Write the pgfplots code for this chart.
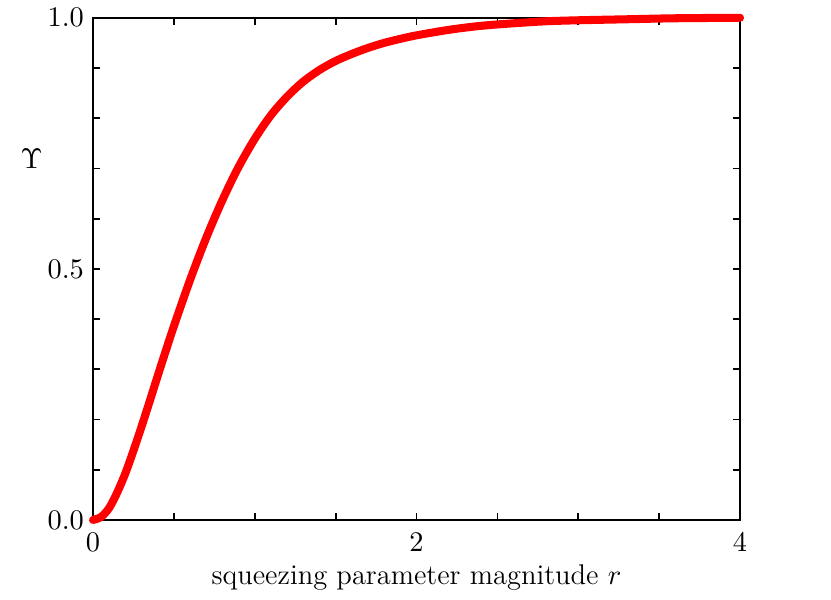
\documentclass[border=0pt]{standalone}
\usepackage{pgfplots}
\pgfplotsset{compat=1.18}

\begin{document}
\begin{tikzpicture}
\begin{axis}[
    scale only axis,
    width=249.7pt, height=193.8pt,
    xmin=0, xmax=4, ymin=0, ymax=1,
    xtick={0,2,4}, ytick={0,0.5,1},
    minor x tick num=3, minor y tick num=4,
    tick align=inside,
    major tick length=2.8pt, minor tick length=2.8pt,
    every tick/.style={black, line width=0.7pt},
    axis line style={line width=0.8pt},
    tick label style={font=\fontsize{11}{13}\selectfont},
    label style={font=\fontsize{11}{13}\selectfont},
    yticklabel style={/pgf/number format/.cd, fixed, fixed zerofill, precision=1},
    xticklabel style={yshift=-1.4pt, /pgf/number format/.cd, fixed, precision=0},
    xlabel={squeezing parameter magnitude $r$},
    xlabel style={yshift=1.4pt},
    ylabel={$\Upsilon$},
    ylabel style={rotate=-90, at={(axis description cs:-0.095,0.72)}, anchor=center},
    clip=false,
]
\addplot[red, line width=3.1pt, line cap=round, line join=round, smooth, tension=0.5] coordinates {
    (0,0)(0.05,0.006)(0.1,0.024)(0.15,0.055)(0.2,0.093)(0.25,0.138)
    (0.3,0.186)(0.35,0.236)(0.4,0.287)(0.45,0.337)(0.5,0.386)(0.6,0.478)
    (0.7,0.562)(0.8,0.637)(0.9,0.703)(1.0,0.759)(1.1,0.806)(1.2,0.843)
    (1.3,0.873)(1.4,0.896)(1.5,0.914)(1.6,0.928)(1.7,0.940)(1.8,0.950)
    (1.9,0.958)(2.0,0.965)(2.2,0.976)(2.4,0.984)(2.6,0.989)(2.8,0.993)
    (3.0,0.995)(3.3,0.997)(3.6,0.999)(4.0,1.0)
};
\coordinate (sw) at (rel axis cs:0,0);
\coordinate (ne) at (rel axis cs:1,1);
\end{axis}
\path (sw) ++(-35.9pt,-29.7pt) (ne) ++(35.1pt,6.2pt);
\end{tikzpicture}
\end{document}
